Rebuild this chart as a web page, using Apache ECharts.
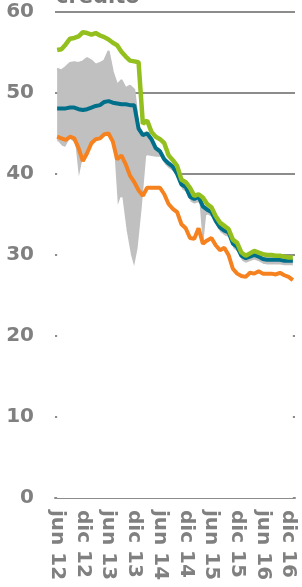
<!DOCTYPE html>
<html><head><meta charset="utf-8">
<script src="https://cdn.jsdelivr.net/npm/echarts@6/dist/echarts.min.js"></script>
<style>html,body{margin:0;padding:0;background:#fff;}#c{width:302px;height:587px;}</style>
</head><body><div id="c"></div>
<script>
const categories = ['jun 12','jul 12','ago 12','sep 12','oct 12','nov 12','dic 12',
 'ene 13','feb 13','mar 13','abr 13','may 13','jun 13','jul 13','ago 13','sep 13','oct 13','nov 13','dic 13',
 'ene 14','feb 14','mar 14','abr 14','may 14','jun 14','jul 14','ago 14','sep 14','oct 14','nov 14','dic 14',
 'ene 15','feb 15','mar 15','abr 15','may 15','jun 15','jul 15','ago 15','sep 15','oct 15','nov 15','dic 15',
 'ene 16','feb 16','mar 16','abr 16','may 16','jun 16','jul 16','ago 16','sep 16','oct 16','nov 16','dic 16','ene 17'];

const greenSeries = [55.3,55.4,56.0,56.7,56.8,57.0,57.5,57.4,57.2,57.4,
 57.1,56.9,56.6,56.2,55.9,55.1,54.5,54.0,53.9,53.8,
 46.2,46.6,45.2,44.6,44.3,43.8,42.3,41.7,41.0,39.3,
 39.0,38.3,37.3,37.5,37.1,36.3,35.9,34.8,34.0,33.6,
 33.2,31.9,31.5,30.3,29.9,30.2,30.5,30.3,30.1,30.0,
 30.0,29.9,29.9,29.8,29.7,29.7];

const blueSeries = [48.1,48.1,48.1,48.2,48.2,48.0,47.9,48.0,48.2,48.4,
 48.5,48.9,49.0,48.8,48.7,48.6,48.6,48.5,48.5,45.6,
 44.8,45.0,44.3,43.2,42.8,41.8,41.3,40.9,40.0,38.7,
 38.4,37.2,36.9,37.2,36.0,35.6,35.3,34.2,33.4,33.0,
 32.8,31.4,31.0,29.9,29.6,29.8,30.0,29.8,29.5,29.4,
 29.4,29.4,29.4,29.3,29.3,29.3];

const orangeSeries = [44.6,44.4,44.2,44.6,44.4,43.2,41.6,42.6,43.8,44.3,
 44.4,44.9,45.0,44.0,41.8,42.3,41.2,39.8,39.0,38.0,
 37.3,38.3,38.3,38.3,38.3,37.5,36.3,35.7,35.3,33.8,
 33.3,32.1,32.0,33.3,31.4,31.8,32.1,31.2,30.6,30.9,
 30.0,28.3,27.7,27.4,27.3,27.8,27.7,28.0,27.7,27.7,
 27.7,27.6,27.8,27.5,27.3,26.9];

const bandLow = [44.0,43.4,43.2,44.2,43.8,38.9,41.5,42.3,43.4,44.0,
 44.1,44.6,44.7,43.8,35.6,37.1,33.0,30.0,28.1,30.8,
 36.0,42.2,42.1,42.0,42.0,41.1,40.6,40.2,39.3,38.0,
 37.7,36.5,36.2,36.4,29.8,34.9,34.6,33.5,32.7,32.3,
 32.1,30.7,30.3,29.2,28.9,29.1,29.3,29.1,28.8,28.7,
 28.7,28.7,28.7,28.6,28.6,28.6];

const bandHigh = [53.0,52.8,53.2,53.7,53.8,53.7,53.9,54.3,54.0,53.5,
 53.7,54.0,55.2,52.6,51.0,51.6,50.6,50.9,50.4,45.9,
 45.0,45.2,44.5,43.4,43.0,42.0,41.5,41.1,40.2,38.9,
 38.6,37.4,37.1,37.4,36.2,35.8,35.5,34.4,33.6,33.2,
 33.0,31.6,31.2,30.1,29.8,30.0,30.2,30.0,29.7,29.6,
 29.6,29.6,29.6,29.5,29.5,29.5];

const yMin = 0, yMax = 60, yStep = 10;
const FONT = 'DejaVu Sans';
const bandSpan = bandHigh.map((v, i) => +(v - bandLow[i]).toFixed(2));

const chart = echarts.init(document.getElementById('c'));
chart.setOption({
  animation: false,
  title: {text: 'crédito', left: 56, top: -13, padding: 0,
    textStyle: {fontFamily: FONT, fontSize: 21, fontWeight: 'bold', color: '#7a7a7a'}},
  grid: {left: 55, right: 7, top: 12, bottom: 89},
  xAxis: {
    type: 'category', data: categories, boundaryGap: true,
    axisLine: {lineStyle: {color: '#8c8c8c', width: 2}},
    axisTick: {interval: 5, alignWithLabel: true, length: 8, lineStyle: {color: '#8c8c8c', width: 2}},
    axisLabel: {interval: 5, rotate: -90, margin: 12, fontFamily: FONT, fontSize: 20, fontWeight: 'bold', color: '#808080'}
  },
  yAxis: {
    type: 'value', min: yMin, max: yMax, interval: yStep,
    axisTick: {show: false},
    axisLabel: {margin: 21, fontFamily: FONT, fontSize: 20, fontWeight: 'bold', color: '#808080'},
    splitLine: {show: true, lineStyle: {color: '#8c8c8c', width: 2}}
  },
  series: [
    {type: 'line', stack: 'band', data: bandLow, symbol: 'none',
     lineStyle: {color: '#ffffff'}, areaStyle: {color: '#ffffff', opacity: 1}},
    {type: 'line', stack: 'band', data: bandSpan, symbol: 'none',
     lineStyle: {color: '#c0c0c0'}, areaStyle: {color: '#c0c0c0', opacity: 1}},
    {type: 'line', data: orangeSeries, symbol: 'none',
     lineStyle: {color: '#f5821f', width: 4}},
    {type: 'line', data: blueSeries, symbol: 'none',
     lineStyle: {color: '#006f8a', width: 4}},
    {type: 'line', data: greenSeries, symbol: 'none',
     lineStyle: {color: '#93c01f', width: 4.5}}
  ]
});
</script></body></html>
